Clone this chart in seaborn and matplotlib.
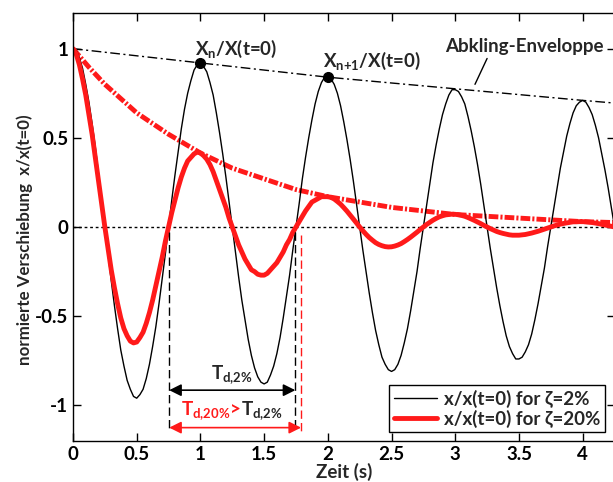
import numpy as np
import matplotlib
matplotlib.use("Agg")
import matplotlib.pyplot as plt
import seaborn as sns

# time grid (s), step 0.025
t = np.round(np.arange(171) * 0.025, 3)

# normalised displacement, zeta = 2 %
x_2 = [1.00, 0.99, 0.95, 0.89, 0.80, 0.70, 0.58, 0.45, 0.30, 0.15, 0.00,
       -0.15, -0.30, -0.44, -0.57, -0.69, -0.78, -0.86, -0.91, -0.95, -0.96,
       -0.94, -0.91, -0.85, -0.77, -0.67, -0.56, -0.43, -0.29, -0.15, 0.00,
       0.15, 0.29, 0.42, 0.55, 0.66, 0.75, 0.82, 0.88, 0.91, 0.92,
       0.90, 0.87, 0.81, 0.74, 0.64, 0.53, 0.41, 0.28, 0.14, 0.00,
       -0.14, -0.28, -0.41, -0.52, -0.63, -0.72, -0.79, -0.84, -0.87, -0.88,
       -0.87, -0.83, -0.78, -0.71, -0.62, -0.51, -0.39, -0.27, -0.13, 0.00,
       0.13, 0.27, 0.39, 0.50, 0.60, 0.69, 0.76, 0.81, 0.84, 0.84,
       0.83, 0.80, 0.75, 0.68, 0.59, 0.49, 0.38, 0.26, 0.13, 0.00,
       -0.13, -0.25, -0.37, -0.48, -0.58, -0.66, -0.73, -0.77, -0.80, -0.81,
       -0.80, -0.77, -0.72, -0.65, -0.57, -0.47, -0.36, -0.25, -0.12, 0.00,
       0.12, 0.24, 0.36, 0.46, 0.55, 0.63, 0.69, 0.74, 0.77, 0.77,
       0.76, 0.73, 0.69, 0.62, 0.54, 0.45, 0.35, 0.24, 0.12, 0.00,
       -0.12, -0.23, -0.34, -0.44, -0.53, -0.61, -0.67, -0.71, -0.74, -0.74,
       -0.73, -0.70, -0.66, -0.60, -0.52, -0.43, -0.33, -0.23, -0.11, 0.00,
       0.11, 0.22, 0.33, 0.42, 0.51, 0.58, 0.64, 0.68, 0.70, 0.71,
       0.70, 0.67, 0.63, 0.57, 0.50, 0.41, 0.32, 0.22, 0.11, 0.00]

# normalised displacement, zeta = 20 %
x_20 = [1.00, 0.97, 0.91, 0.83, 0.74, 0.63, 0.52, 0.39, 0.26, 0.13, 0.00,
        -0.12, -0.24, -0.34, -0.43, -0.51, -0.57, -0.61, -0.64, -0.65, -0.645,
        -0.62, -0.59, -0.54, -0.48, -0.41, -0.33, -0.25, -0.17, -0.08, 0.00,
        0.08, 0.15, 0.22, 0.28, 0.33, 0.37, 0.39, 0.41, 0.42, 0.415,
        0.40, 0.38, 0.35, 0.31, 0.26, 0.21, 0.16, 0.11, 0.05, 0.00,
        -0.05, -0.10, -0.14, -0.18, -0.21, -0.24, -0.25, -0.265, -0.27, -0.27,
        -0.26, -0.24, -0.22, -0.20, -0.17, -0.14, -0.10, -0.07, -0.03, 0.00,
        0.03, 0.06, 0.09, 0.115, 0.14, 0.15, 0.16, 0.17, 0.17, 0.17,
        0.166, 0.157, 0.143, 0.128, 0.109, 0.089, 0.067, 0.045, 0.022, 0.00,
        -0.021, -0.041, -0.059, -0.074, -0.088, -0.098, -0.105, -0.110, -0.112, -0.111,
        -0.107, -0.101, -0.093, -0.082, -0.070, -0.057, -0.043, -0.029, -0.014, 0.00,
        0.014, 0.026, 0.038, 0.048, 0.057, 0.063, 0.068, 0.070, 0.072, 0.071,
        0.069, 0.065, 0.060, 0.053, 0.045, 0.037, 0.028, 0.019, 0.009, 0.00,
        -0.009, -0.017, -0.025, -0.031, -0.036, -0.040, -0.044, -0.046, -0.046, -0.046,
        -0.044, -0.042, -0.038, -0.034, -0.029, -0.024, -0.018, -0.012, -0.006, 0.00,
        0.006, 0.011, 0.016, 0.020, 0.023, 0.026, 0.029, 0.029, 0.030, 0.030,
        0.029, 0.027, 0.025, 0.022, 0.019, 0.015, 0.011, 0.008, 0.004, 0.00]

# decay envelopes
t_env_2 = [0, 1, 2, 3, 4, 4.25]
env_2 = [1.00, 0.92, 0.84, 0.775, 0.71, 0.695]
t_env_20 = [0, 0.125, 0.25, 0.375, 0.5, 0.75, 1.0, 1.25, 1.5, 1.75, 2.0, 2.25, 2.5,
            2.75, 3.0, 3.25, 3.5, 3.75, 4.0, 4.25]
env_20 = [1.00, 0.896, 0.80, 0.72, 0.64, 0.52, 0.415, 0.33, 0.27, 0.21, 0.17, 0.14, 0.11,
          0.09, 0.07, 0.06, 0.05, 0.04, 0.03, 0.025]

# periods
td_2 = (0.755, 1.745)
td_20 = (0.755, 1.79)

RED = '#ff1a1a'
FS = 13.5

sns.set_style("ticks")
plt.rcParams['font.family'] = ['Lato', 'DejaVu Sans']
plt.rcParams['font.weight'] = 'bold'
plt.rcParams['axes.labelweight'] = 'bold'
plt.rcParams['lines.scale_dashes'] = False
plt.rcParams['mathtext.fontset'] = 'custom'
plt.rcParams['mathtext.rm'] = 'Lato:bold'
plt.rcParams['mathtext.it'] = 'Lato:bold'
plt.rcParams['mathtext.default'] = 'rm'

fig = plt.figure(figsize=(6.13, 4.82), dpi=100)
ax = fig.add_axes([73 / 613, 1 - 441 / 482, 541.5 / 613, 428 / 482])

ax.axhline(0, color='black', lw=1, dashes=(2, 2))
ax.plot(t_env_2, env_2, color='black', lw=1, dashes=(7, 2.5, 1.5, 2.5))
ax.plot(t_env_20, env_20, color=RED, lw=3.5, dashes=(7, 1.5, 1.5, 1.5))
sns.lineplot(x=t, y=x_2, color='black', lw=1, label='x/x(t=0) for ζ=2%', ax=ax)
sns.lineplot(x=t, y=x_20, color=RED, lw=3.5, label='x/x(t=0) for ζ=20%', ax=ax)

# peak markers
ax.plot([1, 2], [0.918, 0.843], 'o', color='black', ms=7, zorder=5)
ax.text(0.96, 1.0, r'X$_n$/X(t=0)', fontsize=FS, ha='left', va='center')
ax.text(1.96, 0.93, r'X$_{n{+}1}$/X(t=0)', fontsize=FS, ha='left', va='center')
ax.text(2.92, 1.01, 'Abkling-Enveloppe', fontsize=FS, ha='left', va='center')
ax.plot([3.25, 3.155], [0.945, 0.80], color='black', lw=1)

# period markers
for xv in td_2:
    ax.plot([xv, xv], [-0.03, -1.15], color='black', lw=1, dashes=(6, 3))
ax.plot([td_20[1], td_20[1]], [-0.045, -1.15], color=RED, lw=1, dashes=(6, 3))
ax.annotate('', xy=(td_2[0], -0.915), xytext=(td_2[1], -0.915),
            arrowprops=dict(arrowstyle='<|-|>', color='black', lw=1.2,
                            mutation_scale=18, shrinkA=0, shrinkB=0))
ax.annotate('', xy=(td_20[0], -1.125), xytext=(td_20[1], -1.125),
            arrowprops=dict(arrowstyle='<|-|>', color=RED, lw=1.2,
                            mutation_scale=18, shrinkA=0, shrinkB=0))
ax.text(1.25, -0.89, r'T$_{d{,}2\%}$', fontsize=FS, ha='center', va='bottom')
ax.text(1.315, -1.095, r'T$_{d{,}20\%}$>', fontsize=FS, ha='right', va='bottom', color=RED)
ax.text(1.315, -1.095, r'T$_{d{,}2\%}$', fontsize=FS, ha='left', va='bottom')

ax.set_xlim(0, 4.25)
ax.set_ylim(-1.2, 1.2)
ax.set_xticks([0, 0.5, 1, 1.5, 2, 2.5, 3, 3.5, 4])
ax.set_xticklabels(['0', '0.5', '1', '1.5', '2', '2.5', '3', '3.5', '4'])
ax.set_yticks([-1, -0.5, 0, 0.5, 1])
ax.set_yticklabels(['-1', '-0.5', '0', '0.5', '1'])
ax.tick_params(direction='in', top=True, right=True, length=6, width=1,
               labelsize=FS, colors='black')
for s in ax.spines.values():
    s.set_linewidth(1)
    s.set_color('black')
    s.set_visible(True)
ax.set_xlabel('Zeit (s)', fontsize=FS, labelpad=0)
ax.set_ylabel('normierte Verschiebung  x/x(t=0)', fontsize=12.2)
ax.yaxis.set_label_coords(-0.074, 0.47)

leg = ax.legend(loc='lower right', bbox_to_anchor=(0.983, 0.02), fontsize=FS,
                frameon=True, fancybox=False, handlelength=2.3,
                borderpad=0.25, labelspacing=0.1, handletextpad=0.4,
                borderaxespad=0)
leg.get_frame().set_edgecolor('black')
leg.get_frame().set_linewidth(1)
leg.get_frame().set_alpha(1)

plt.savefig('out.png', dpi=100)
